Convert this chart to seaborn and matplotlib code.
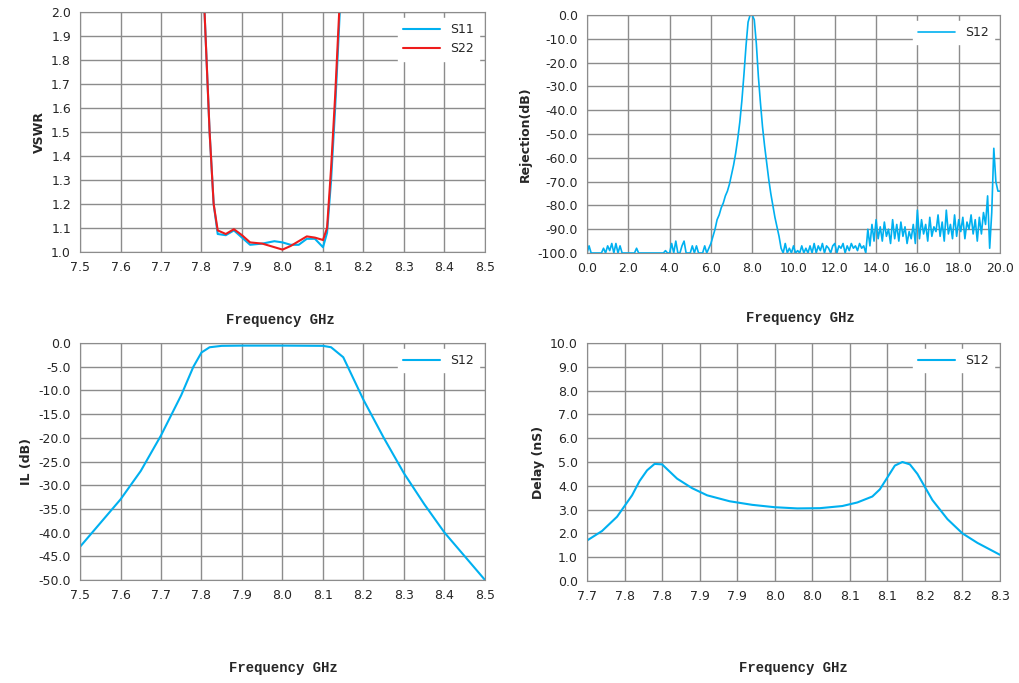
import numpy as np
import pandas as pd
import matplotlib
matplotlib.use("Agg")
import matplotlib.pyplot as plt
import seaborn as sns

# ---- VSWR data
vswr_f = [7.79, 7.80, 7.81, 7.82, 7.83, 7.84, 7.86, 7.88, 7.90, 7.92, 7.95, 7.98, 8.00,
          8.02, 8.04, 8.06, 8.08, 8.10, 8.11, 8.12, 8.13, 8.14, 8.15]
s11 = [2.6, 2.3, 1.9, 1.5, 1.2, 1.075, 1.07, 1.09, 1.06, 1.03, 1.035, 1.045, 1.04,
       1.03, 1.03, 1.055, 1.055, 1.02, 1.08, 1.3, 1.6, 1.95, 2.3]
s22 = [2.6, 2.3, 1.9, 1.5, 1.2, 1.09, 1.075, 1.095, 1.07, 1.04, 1.035, 1.02, 1.01,
       1.025, 1.045, 1.065, 1.06, 1.05, 1.1, 1.35, 1.65, 2.0, 2.3]

# ---- Rejection data, 0..20 GHz step 0.1
rej = [-100, -97, -100, -100, -100, -100, -100, -100, -98, -100,
       -97, -99, -96, -100, -96, -100, -97, -100, -100, -100,
       -100, -100, -100, -100, -98, -100, -100, -100, -100, -100,
       -100, -100, -100, -100, -100, -100, -100, -100, -99, -100,
       -100, -96, -100, -95, -100, -100, -97, -95, -100, -100,
       -100, -97, -100, -97, -100, -100, -100, -97, -100, -98,
       -96, -93, -90, -86, -84, -81, -79, -76, -74, -71,
       -67, -63, -58, -52, -45, -36, -25, -13, -3, 0,
       0, -2, -12, -26, -37, -47, -55, -62, -69, -75,
       -80, -85, -89, -93, -98, -100, -96, -100, -98, -100,
       -97, -100, -99, -100, -97, -100, -98, -100, -97, -100,
       -96, -100, -97, -99, -96, -100, -97, -98, -100, -97,
       -96, -100, -97, -98, -96, -100, -97, -99, -96, -98,
       -97, -99, -96, -98, -97, -100, -90, -97, -88, -95,
       -86, -94, -89, -95, -87, -93, -90, -96, -86, -94,
       -88, -95, -87, -93, -89, -96, -91, -94, -88, -96,
       -82, -94, -86, -92, -88, -95, -85, -93, -89, -91,
       -84, -93, -87, -95, -82, -92, -88, -94, -84, -93,
       -86, -91, -85, -94, -87, -90, -84, -92, -86, -95,
       -85, -92, -83, -88, -76, -98, -83, -56, -70, -74, -74]
rej_f = [round(i * 0.1, 1) for i in range(len(rej))]

# ---- Insertion loss
il_f = [7.50, 7.55, 7.60, 7.65, 7.70, 7.75, 7.78, 7.80, 7.82, 7.85, 7.90, 8.00, 8.10, 8.12,
        8.15, 8.20, 8.25, 8.30, 8.35, 8.40, 8.45, 8.50]
il = [-43, -38, -33, -27, -19.5, -11, -5, -2, -0.9, -0.6, -0.55, -0.55, -0.6, -0.9,
      -3, -12, -20, -27.5, -34, -40, -45, -50]

# ---- Group delay
dl_f = [7.70, 7.72, 7.74, 7.76, 7.77, 7.78, 7.79, 7.80, 7.81, 7.82, 7.84, 7.86, 7.89, 7.92,
        7.95, 7.98, 8.01, 8.04, 8.06, 8.08, 8.09, 8.10, 8.11, 8.12, 8.13, 8.14, 8.16, 8.18,
        8.20, 8.22, 8.25]
delay = [1.7, 2.1, 2.7, 3.6, 4.2, 4.65, 4.92, 4.9, 4.6, 4.3, 3.9, 3.6, 3.35, 3.2,
         3.1, 3.05, 3.06, 3.15, 3.3, 3.55, 3.85, 4.35, 4.85, 5.0, 4.9, 4.5, 3.4, 2.6,
         2.0, 1.6, 1.1]
dl_ticks = [7.70, 7.75, 7.80, 7.85, 7.90, 7.95, 8.00, 8.05, 8.10, 8.15, 8.20, 8.25]
dl_labels = ["7.7", "7.8", "7.8", "7.9", "7.9", "8.0", "8.0", "8.1", "8.1", "8.2", "8.2", "8.3"]

CYAN = "#00b0f0"
RED = "#ee1c1c"

sns.set_style("white")
plt.rcParams["font.family"] = ["DejaVu Sans"]
fig = plt.figure(figsize=(10.19, 6.83), dpi=100)

def frame(ax, xlim, ylim, yticks, xticks, ylabel, fmt="%.1f"):
    ax.set_xlim(*xlim)
    ax.set_ylim(*ylim)
    ax.set_yticks(yticks)
    ax.set_xticks(xticks)
    ax.yaxis.set_major_formatter(matplotlib.ticker.FormatStrFormatter(fmt))
    ax.xaxis.set_major_formatter(matplotlib.ticker.FormatStrFormatter(fmt))
    ax.grid(True, color="#8c8c8c", lw=1)
    for s in ax.spines.values():
        s.set_color("#8c8c8c")
    ax.tick_params(labelsize=9, length=3, color="#8c8c8c")
    ax.set_ylabel(ylabel, fontsize=9, fontweight="bold")
    ax.set_xlabel("")

def legend(ax):
    ax.legend(loc="upper right", fontsize=9, frameon=True, fancybox=False,
              edgecolor="white", framealpha=1, handlelength=3)

ax1 = fig.add_axes([80/1019, 1-252/683, 405/1019, 240/683])
sns.lineplot(x=vswr_f, y=s11, ax=ax1, color=CYAN, lw=1.5, label="S11")
sns.lineplot(x=vswr_f, y=s22, ax=ax1, color=RED, lw=1.5, label="S22")
frame(ax1, (7.5, 8.5), (1.0, 2.0), np.arange(1.0, 2.01, 0.1), np.arange(7.5, 8.51, 0.1), "VSWR")
legend(ax1)

ax2 = fig.add_axes([587/1019, 1-253/683, 413/1019, 238/683])
sns.lineplot(x=rej_f, y=rej, ax=ax2, color=CYAN, lw=1.2, label="S12")
frame(ax2, (0, 20), (-100, 0), np.arange(-100, 0.1, 10), np.arange(0, 20.1, 2), "Rejection(dB)")
legend(ax2)

ax3 = fig.add_axes([80/1019, 1-580/683, 405/1019, 237/683])
sns.lineplot(x=il_f, y=il, ax=ax3, color=CYAN, lw=1.5, label="S12")
frame(ax3, (7.5, 8.5), (-50, 0), np.arange(-50, 0.1, 5), np.arange(7.5, 8.51, 0.1), "IL (dB)")
legend(ax3)

ax4 = fig.add_axes([587/1019, 1-581/683, 413/1019, 238/683])
sns.lineplot(x=dl_f, y=delay, ax=ax4, color=CYAN, lw=1.5, label="S12")
frame(ax4, (7.7, 8.25), (0, 10), np.arange(0, 10.1, 1), dl_ticks, "Delay (nS)")
ax4.set_xticklabels(dl_labels)
legend(ax4)

lab = dict(fontsize=10, fontweight="bold", family="Liberation Mono", ha="center", va="center")
fig.text(280/1019, 1-320/683, "Frequency GHz", **lab)
fig.text(800/1019, 1-318/683, "Frequency GHz", **lab)
fig.text(283/1019, 1-668/683, "Frequency GHz", **lab)
fig.text(793/1019, 1-668/683, "Frequency GHz", **lab)

fig.savefig("out.png", dpi=100)
